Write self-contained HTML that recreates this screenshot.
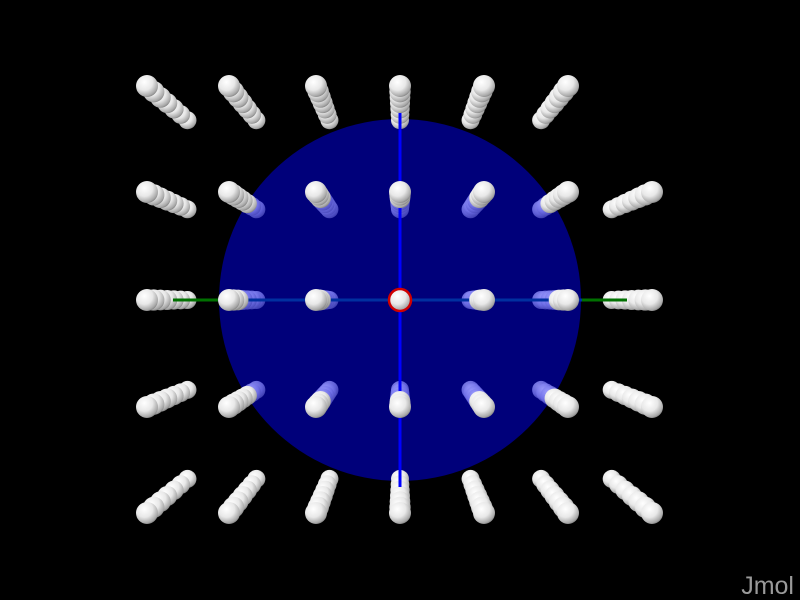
<!DOCTYPE html>
<html><head><meta charset="utf-8"><style>
html,body{margin:0;padding:0;background:#000;width:800px;height:600px;overflow:hidden}
svg{display:block}
</style></head><body>
<svg id="scene" width="800" height="600" viewBox="0 0 800 600">
<defs>
<radialGradient id="gw" cx="0.38" cy="0.32" r="0.75">
<stop offset="0" stop-color="#ffffff"/><stop offset="0.5" stop-color="#e8e8e8"/><stop offset="0.85" stop-color="#a8a8a8"/><stop offset="1" stop-color="#707070"/>
</radialGradient>
<radialGradient id="gb" cx="0.38" cy="0.32" r="0.75">
<stop offset="0" stop-color="#a0a0ff"/><stop offset="0.6" stop-color="#7070e8"/><stop offset="1" stop-color="#4040b0"/>
</radialGradient>
</defs>
<rect width="800" height="600" fill="#000"/>
<circle cx="400" cy="300" r="181" fill="#00007a"/>
<g id="back"></g>
<g id="axes">
<line x1="400" y1="113" x2="400" y2="487" stroke="#0000ff" stroke-width="3"/>
<line x1="218" y1="300" x2="582" y2="300" stroke="#0030a0" stroke-width="3"/>
<line x1="173" y1="300" x2="218" y2="300" stroke="#007000" stroke-width="3"/>
<line x1="582" y1="300" x2="627" y2="300" stroke="#007000" stroke-width="3"/>
</g>
<g id="front"></g>
<circle cx="400" cy="300" r="11" fill="none" stroke="#d00000" stroke-width="2.5"/>
<text x="794" y="594" text-anchor="end" font-family="Liberation Sans, sans-serif" font-size="25" fill="#9a9a9a">Jmol</text>
</svg>
<script>
const colsX = [147, 229, 316, 400, 484, 568, 652];
const rowsY = [86, 192, 300, 407, 513];
const missing = ["0-6"];
const CX = 400, CY = 300, F = 0.16, N = 7;
const back = document.getElementById('back');
const front = document.getElementById('front');
const NS = 'http://www.w3.org/2000/svg';
rowsY.forEach((y, r) => {
  colsX.forEach((x, c) => {
    if (missing.includes(r + '-' + c)) return;
    for (let i = N - 1; i >= 0; i--) {
      const t = F * i / (N - 1);
      const px = x + (CX - x) * t, py = y + (CY - y) * t;
      const rad = 11 - 2 * i / (N - 1);
      const inside = Math.hypot(px - CX, py - CY) < 178;
      const isBack = i >= 3;
      const el = document.createElementNS(NS, 'circle');
      el.setAttribute('cx', px); el.setAttribute('cy', py); el.setAttribute('r', rad);
      if (inside && isBack) { el.setAttribute('fill', 'url(#gb)'); el.setAttribute('opacity', '0.85'); }
      else el.setAttribute('fill', 'url(#gw)');
      
      
      (isBack ? back : front).appendChild(el);
    }
  });
});
</script>
</body></html>
